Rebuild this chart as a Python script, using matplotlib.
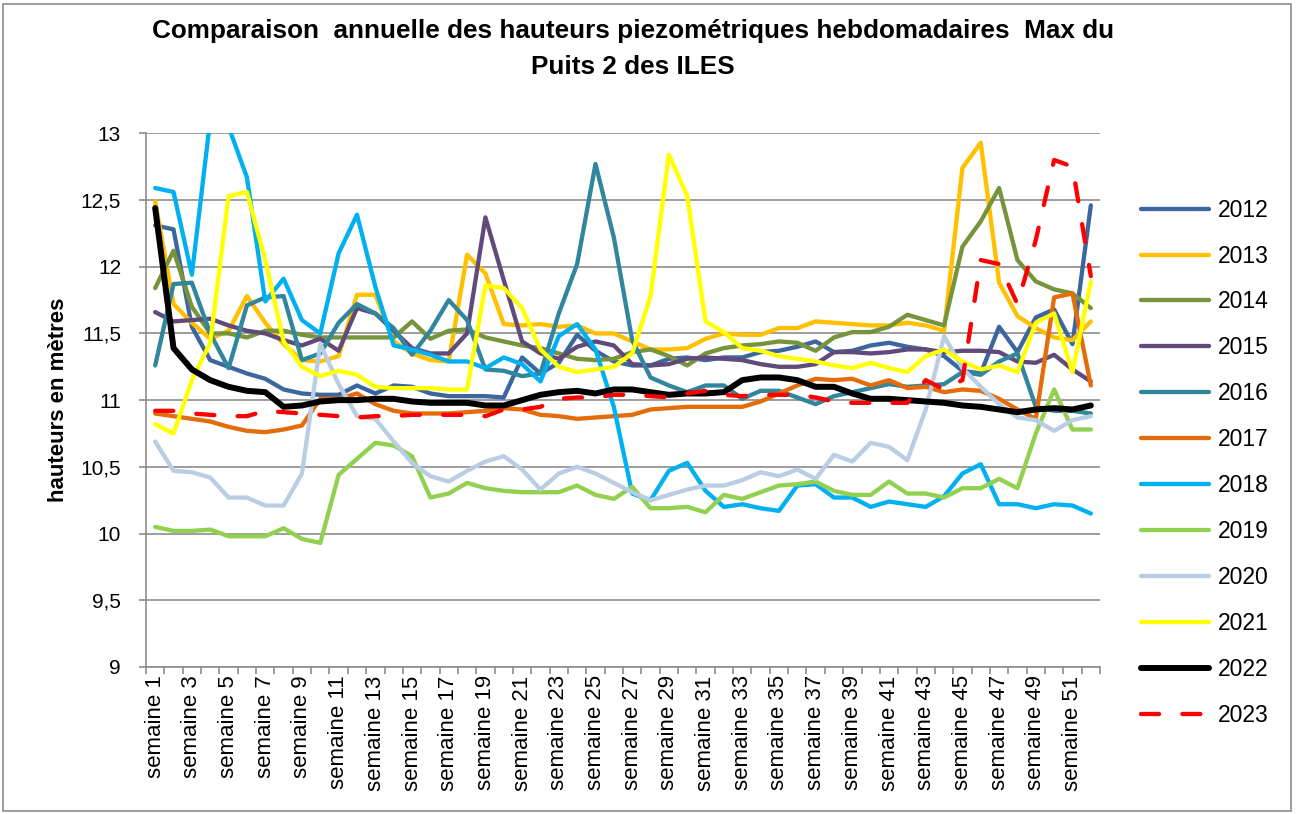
import matplotlib
matplotlib.use("Agg")
import matplotlib.pyplot as plt
from matplotlib.patches import Rectangle
from matplotlib.ticker import FuncFormatter, FixedLocator

plt.rcParams['font.family'] = ['Liberation Sans', 'DejaVu Sans']

# ---------------- data ----------------
weeks = list(range(1, 53))
week_labels = [f"semaine {w}" for w in weeks]
years = ["2012", "2013", "2014", "2015", "2016", "2017",
         "2018", "2019", "2020", "2021", "2022", "2023"]

h2012 = [12.31, 12.28, 11.55, 11.30, 11.25, 11.20, 11.16, 11.08, 11.05, 11.04,
         11.04, 11.11, 11.05, 11.11, 11.10, 11.05, 11.03, 11.03, 11.03, 11.02,
         11.32, 11.20, 11.28, 11.49, 11.37, 11.29, 11.26, 11.26, 11.31, 11.32,
         11.30, 11.32, 11.32, 11.36, 11.37, 11.40, 11.44, 11.36, 11.37, 11.41,
         11.43, 11.40, 11.38, 11.33, 11.22, 11.20, 11.55, 11.36, 11.62, 11.68,
         11.42, 12.46]
h2013 = [12.49, 11.72, 11.58, 11.46, 11.52, 11.78, 11.58, 11.42, 11.30, 11.29,
         11.33, 11.79, 11.79, 11.44, 11.35, 11.30, 11.29, 12.09, 11.95, 11.57,
         11.56, 11.57, 11.55, 11.56, 11.50, 11.50, 11.44, 11.38, 11.38, 11.39,
         11.46, 11.50, 11.49, 11.49, 11.54, 11.54, 11.59, 11.58, 11.57, 11.56,
         11.56, 11.58, 11.56, 11.52, 12.74, 12.93, 11.88, 11.63, 11.54, 11.47,
         11.45, 11.59]
h2014 = [11.84, 12.12, 11.70, 11.50, 11.50, 11.47, 11.52, 11.52, 11.49, 11.47,
         11.47, 11.47, 11.47, 11.47, 11.59, 11.46, 11.52, 11.53, 11.47, 11.44,
         11.41, 11.39, 11.35, 11.31, 11.30, 11.31, 11.36, 11.38, 11.33, 11.26,
         11.35, 11.39, 11.41, 11.42, 11.44, 11.43, 11.37, 11.47, 11.51, 11.51,
         11.55, 11.64, 11.60, 11.56, 12.15, 12.34, 12.59, 12.05, 11.89, 11.83,
         11.80, 11.69]
h2015 = [11.66, 11.59, 11.60, 11.61, 11.56, 11.52, 11.50, 11.45, 11.41, 11.46,
         11.37, 11.69, 11.65, 11.52, 11.39, 11.35, 11.35, 11.50, 12.37, 11.90,
         11.44, 11.35, 11.31, 11.40, 11.44, 11.41, 11.27, 11.26, 11.27, 11.31,
         11.32, 11.31, 11.30, 11.27, 11.25, 11.25, 11.27, 11.36, 11.36, 11.35,
         11.36, 11.38, 11.38, 11.36, 11.37, 11.37, 11.36, 11.29, 11.28, 11.34,
         11.23, 11.14]
h2016 = [11.26, 11.87, 11.88, 11.50, 11.24, 11.71, 11.77, 11.78, 11.30, 11.35,
         11.58, 11.72, 11.65, 11.54, 11.34, 11.52, 11.75, 11.60, 11.23, 11.22,
         11.18, 11.20, 11.65, 12.02, 12.77, 12.22, 11.45, 11.17, 11.11, 11.06,
         11.11, 11.11, 11.01, 11.07, 11.07, 11.02, 10.97, 11.03, 11.06, 11.09,
         11.12, 11.10, 11.11, 11.12, 11.21, 11.19, 11.29, 11.35, 10.95, 10.92,
         10.92, 10.90]
h2017 = [10.90, 10.88, 10.86, 10.84, 10.80, 10.77, 10.76, 10.78, 10.81, 11.01,
         11.01, 11.05, 10.97, 10.92, 10.90, 10.90, 10.90, 10.91, 10.92, 10.94,
         10.93, 10.89, 10.88, 10.86, 10.87, 10.88, 10.89, 10.93, 10.94, 10.95,
         10.95, 10.95, 10.95, 10.99, 11.05, 11.11, 11.16, 11.15, 11.16, 11.11,
         11.15, 11.09, 11.10, 11.06, 11.08, 11.07, 11.01, 10.93, 10.86, 11.77,
         11.80, 11.11]
h2018 = [12.59, 12.56, 11.94, 13.10, 13.05, 12.67, 11.74, 11.91, 11.60, 11.50,
         12.10, 12.39, 11.85, 11.41, 11.38, 11.34, 11.29, 11.29, 11.24, 11.32,
         11.27, 11.14, 11.48, 11.57, 11.38, 10.95, 10.30, 10.25, 10.47, 10.53,
         10.32, 10.20, 10.22, 10.19, 10.17, 10.36, 10.37, 10.27, 10.27, 10.20,
         10.24, 10.22, 10.20, 10.28, 10.45, 10.52, 10.22, 10.22, 10.19, 10.22,
         10.21, 10.15]
h2019 = [10.05, 10.02, 10.02, 10.03, 9.98, 9.98, 9.98, 10.04, 9.96, 9.93,
         10.44, 10.56, 10.68, 10.66, 10.58, 10.27, 10.30, 10.38, 10.34, 10.32,
         10.31, 10.31, 10.31, 10.36, 10.29, 10.26, 10.35, 10.19, 10.19, 10.20,
         10.16, 10.29, 10.26, 10.31, 10.36, 10.37, 10.39, 10.32, 10.29, 10.29,
         10.39, 10.30, 10.30, 10.27, 10.34, 10.34, 10.41, 10.34, 10.75, 11.08,
         10.78, 10.78]
h2020 = [10.69, 10.47, 10.46, 10.42, 10.27, 10.27, 10.21, 10.21, 10.45, 11.42,
         11.12, 10.88, 10.86, 10.69, 10.53, 10.43, 10.39, 10.47, 10.54, 10.58,
         10.48, 10.33, 10.45, 10.50, 10.45, 10.38, 10.31, 10.25, 10.29, 10.33,
         10.36, 10.36, 10.40, 10.46, 10.43, 10.48, 10.41, 10.59, 10.54, 10.68,
         10.65, 10.55, 10.93, 11.48, 11.24, 11.10, 10.97, 10.87, 10.85, 10.77,
         10.85, 10.88]
h2021 = [10.82, 10.75, 11.15, 11.43, 12.53, 12.56, 12.05, 11.44, 11.25, 11.18,
         11.22, 11.19, 11.10, 11.09, 11.09, 11.09, 11.08, 11.08, 11.86, 11.84,
         11.69, 11.38, 11.25, 11.21, 11.23, 11.25, 11.35, 11.78, 12.84, 12.53,
         11.59, 11.51, 11.39, 11.37, 11.33, 11.31, 11.29, 11.26, 11.24, 11.28,
         11.24, 11.21, 11.33, 11.38, 11.29, 11.23, 11.26, 11.21, 11.58, 11.65,
         11.21, 11.89]
h2022 = [12.44, 11.39, 11.23, 11.15, 11.10, 11.07, 11.06, 10.95, 10.96, 10.99,
         11.00, 11.00, 11.01, 11.01, 10.99, 10.98, 10.98, 10.98, 10.96, 10.96,
         11.00, 11.04, 11.06, 11.07, 11.05, 11.08, 11.08, 11.06, 11.04, 11.05,
         11.05, 11.06, 11.15, 11.17, 11.17, 11.15, 11.10, 11.10, 11.05, 11.01,
         11.01, 11.00, 10.99, 10.98, 10.96, 10.95, 10.93, 10.91, 10.93, 10.94,
         10.93, 10.96]
h2023 = [10.92, 10.92, 10.90, 10.89, 10.88, 10.88, 10.92, 10.91, 10.90, 10.89,
         10.88, 10.87, 10.88, 10.88, 10.89, 10.89, 10.89, 10.89, 10.88, 10.93,
         10.93, 10.95, 11.01, 11.02, 11.02, 11.04, 11.04, 11.03, 11.02, 11.05,
         11.07, 11.04, 11.03, 11.04, 11.04, 11.04, 11.02, 10.99, 10.98, 10.98,
         10.98, 10.98, 11.15, 11.08, 11.15, 12.05, 12.02, 11.72, 12.20, 12.80,
         12.75, 11.93]

series = [h2012, h2013, h2014, h2015, h2016, h2017,
          h2018, h2019, h2020, h2021, h2022, h2023]

colors = ["#3C679E", "#FFC000", "#77933C", "#604A7B", "#31859C", "#E46C0A",
          "#00B0F0", "#92D050", "#B9CDE5", "#FFFF00", "#000000", "#FF0000"]

y_ticks = [9, 9.5, 10, 10.5, 11, 11.5, 12, 12.5, 13]

title_line1 = "Comparaison  annuelle des hauteurs piezométriques hebdomadaires  Max du"
title_line2 = "Puits 2 des ILES"
y_label = "hauteurs en mètres"

# ---------------- figure ----------------
W, H = 1296, 814
fig = plt.figure(figsize=(W / 100, H / 100), dpi=100)
fig.patch.set_facecolor("white")

# outer chart frame
fig.patches.append(Rectangle((3 / W, 3 / H), (W - 8) / W, (H - 7) / H,
                             transform=fig.transFigure, fill=False,
                             edgecolor="#8C8C8C", linewidth=1.2))

ax_l, ax_r, ax_t, ax_b = 146, 1100, 133.3, 667
ax = fig.add_axes([ax_l / W, 1 - ax_b / H, (ax_r - ax_l) / W, (ax_b - ax_t) / H])

for i, (yr, vals, col) in enumerate(zip(years, series, colors)):
    kw = dict(color=col, label=yr, zorder=3 + i,
              solid_capstyle="round", solid_joinstyle="round")
    if yr == "2022":
        ax.plot(weeks, vals, linewidth=4.3, **kw)
    elif yr == "2023":
        ax.plot(weeks, vals, linewidth=3.1, linestyle=(0, (4.2, 5.4)),
                dash_capstyle="round", dash_joinstyle="round",
                color=col, label=yr, zorder=3 + i)
    else:
        ax.plot(weeks, vals, linewidth=3.1, **kw)

ax.set_xlim(0.5, 52.5)
ax.set_ylim(9, 13)
ax.set_yticks(y_ticks)
ax.yaxis.set_major_formatter(FuncFormatter(lambda v, p: f"{v:g}".replace(".", ",")))
ax.grid(axis="y", color="#8C8C8C", linewidth=1.2, zorder=1)
ax.set_axisbelow(True)

for s in ["top", "right"]:
    ax.spines[s].set_visible(False)
for s in ["left", "bottom"]:
    ax.spines[s].set_color("#8C8C8C")
    ax.spines[s].set_linewidth(1.2)

# x axis: labels on odd weeks, tick marks at category boundaries
ax.xaxis.set_major_locator(FixedLocator(weeks[::2]))
ax.set_xticklabels(week_labels[::2], rotation=90, fontsize=16)
ax.xaxis.set_minor_locator(FixedLocator([w + 0.5 for w in [0] + weeks]))
ax.tick_params(axis="x", which="major", length=0, pad=6)
ax.tick_params(axis="x", which="minor", length=5, width=1.2, color="#8C8C8C")
ax.tick_params(axis="y", which="major", length=5, width=1.2, color="#8C8C8C",
               labelsize=15, pad=13)

fig.text(633 / W, 1 - 31 / H, title_line1, ha="center", va="center",
         fontsize=18.8, fontweight="bold")
fig.text(633 / W, 1 - 67 / H, title_line2, ha="center", va="center",
         fontsize=18.8, fontweight="bold")
fig.text(59 / W, 1 - 400 / H, y_label, rotation=90, ha="center", va="center",
         fontsize=16, fontweight="bold")

handles, labels = ax.get_legend_handles_labels()
fig.legend(handles, labels, loc="upper left",
           bbox_to_anchor=(1120 / W, 1 - 178 / H), frameon=False,
           fontsize=16.5, handlelength=3.0, handletextpad=0.35,
           labelspacing=1.0, borderpad=0.4)

fig.savefig("out.png", dpi=100, facecolor="white")
